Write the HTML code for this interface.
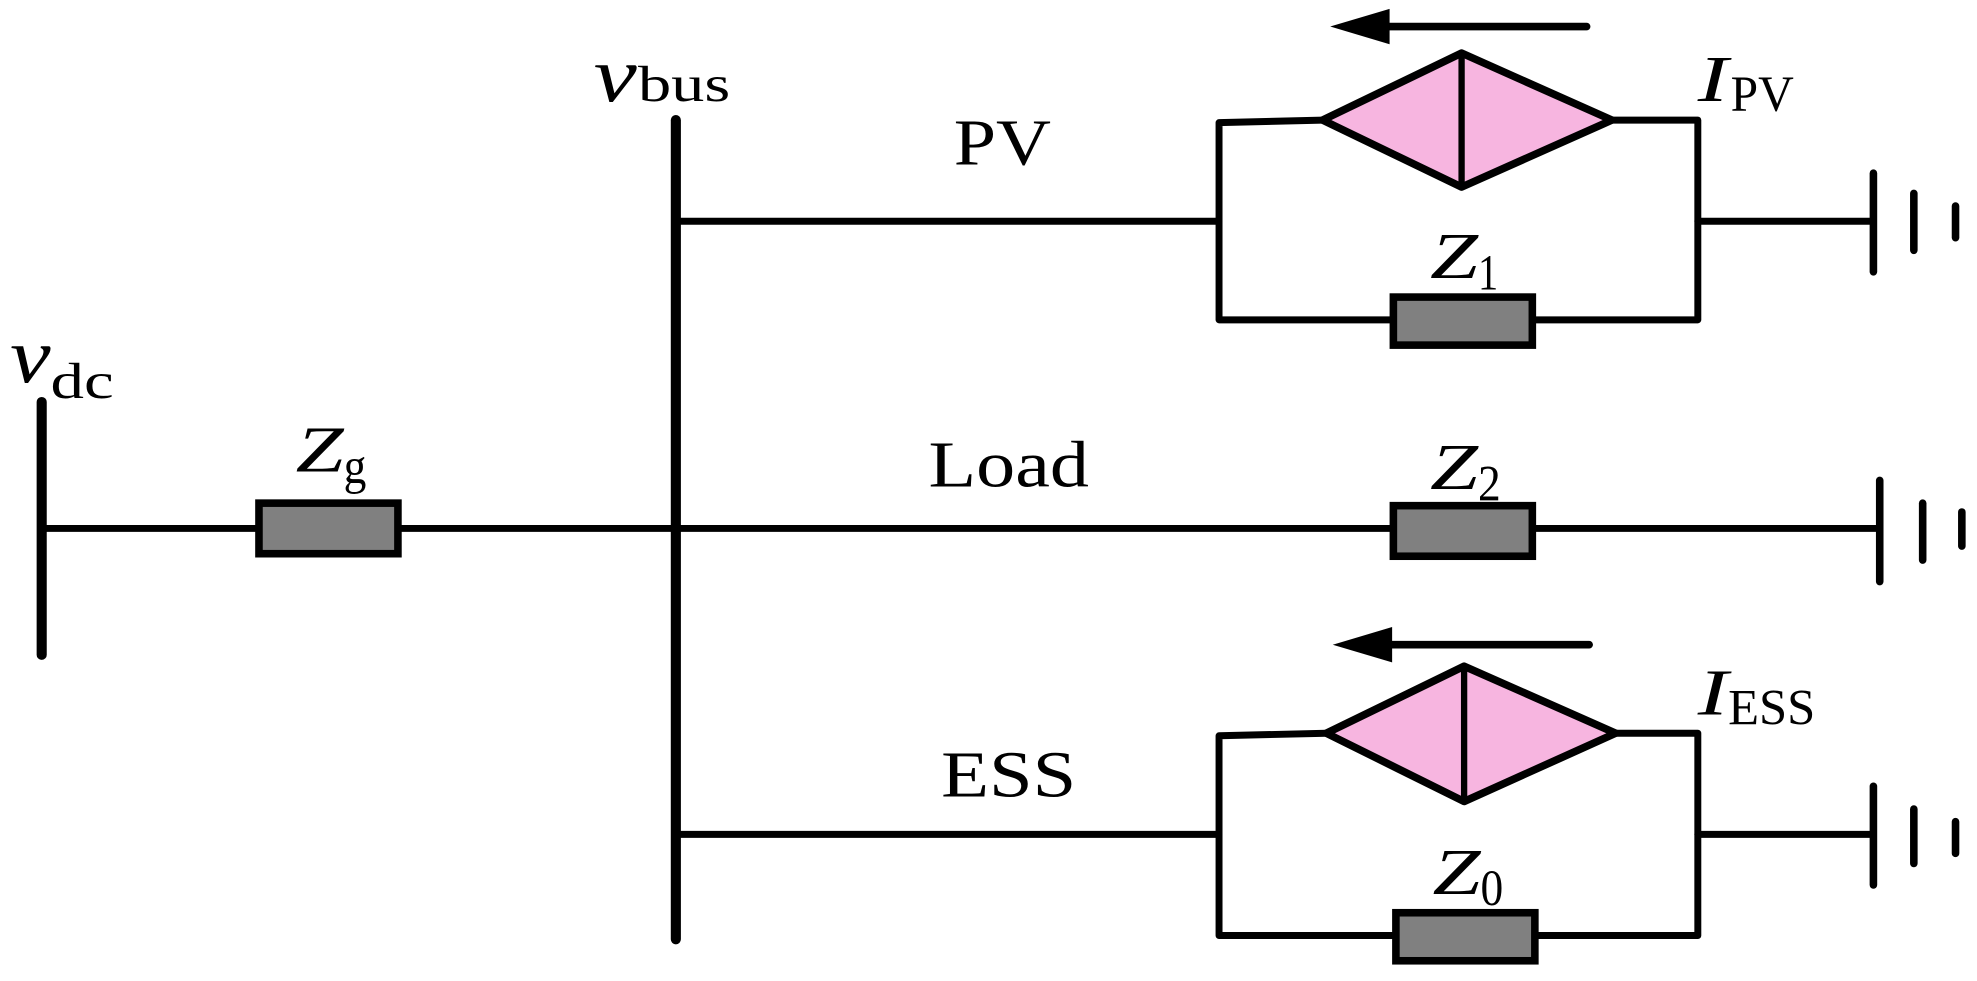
<!DOCTYPE html>
<html><head><meta charset="utf-8"><style>html,body{margin:0;padding:0;background:#fff;}svg{display:block}</style></head>
<body>
<svg width="1977" height="981" viewBox="0 0 1565 776" preserveAspectRatio="none" xmlns="http://www.w3.org/2000/svg">
<g stroke="#000" stroke-linecap="round" fill="none" stroke-linejoin="round">
<line x1="33" y1="318" x2="33" y2="518" stroke-width="8"/>
<line x1="33" y1="418" x2="535" y2="418" stroke-width="5.5"/>
<line x1="535" y1="95" x2="535" y2="743" stroke-width="8"/>
<line x1="535" y1="175" x2="965" y2="175" stroke-width="5.5"/>
<line x1="535" y1="418" x2="1488" y2="418" stroke-width="5.5"/>
<line x1="535" y1="660" x2="965" y2="660" stroke-width="5.5"/>
<polyline points="1047,95 965,97 965,253 1344,253 1344,95 1276,95" stroke-width="5.5"/>
<line x1="1344" y1="175" x2="1483" y2="175" stroke-width="5.5"/>
<polygon points="1047,95 1157,42 1276,95 1157,148" fill="#f7b5e0" stroke-width="6"/>
<line x1="1157" y1="42" x2="1157" y2="148" stroke-width="5"/>
<line x1="1483" y1="137" x2="1483" y2="215" stroke-width="6"/>
<line x1="1515" y1="153" x2="1515" y2="198" stroke-width="6"/>
<line x1="1548" y1="163" x2="1548" y2="188" stroke-width="6"/>
<line x1="1100" y1="21" x2="1256" y2="21" stroke-width="6"/>
<polygon points="1053,21 1100,7 1100,35" fill="#000" stroke="none"/>
<line x1="1488" y1="380" x2="1488" y2="460" stroke-width="6"/>
<line x1="1522" y1="398" x2="1522" y2="443" stroke-width="6"/>
<line x1="1553" y1="405" x2="1553" y2="432" stroke-width="6"/>
<polyline points="1050,580 965,582 965,740 1344,740 1344,580 1279,580" stroke-width="5.5"/>
<line x1="1344" y1="660" x2="1483" y2="660" stroke-width="5.5"/>
<polygon points="1050,580 1159,527 1279,580 1159,634" fill="#f7b5e0" stroke-width="6"/>
<line x1="1159" y1="527" x2="1159" y2="634" stroke-width="5"/>
<line x1="1483" y1="622" x2="1483" y2="700" stroke-width="6"/>
<line x1="1515" y1="640" x2="1515" y2="683" stroke-width="6"/>
<line x1="1548" y1="650" x2="1548" y2="675" stroke-width="6"/>
<line x1="1102" y1="510" x2="1258" y2="510" stroke-width="6"/>
<polygon points="1055,510 1102,496 1102,524" fill="#000" stroke="none"/>
</g>
<g fill="#808080" stroke="#000" stroke-width="6">
<rect x="205" y="398" width="110" height="40"/>
<rect x="1103" y="235" width="110" height="38"/>
<rect x="1103" y="400" width="110" height="40"/>
<rect x="1105" y="722" width="110" height="38"/>
</g>
<g font-family="Liberation Serif, serif" fill="#000" lengthAdjust="spacingAndGlyphs">
<text x="8" y="302" font-size="62" font-style="italic" textLength="32" lengthAdjust="spacingAndGlyphs">v</text>
<text x="40" y="315" font-size="40" textLength="50" lengthAdjust="spacingAndGlyphs">dc</text>
<text x="470" y="80" font-size="62" font-style="italic" textLength="34" lengthAdjust="spacingAndGlyphs">v</text>
<text x="505" y="80" font-size="40" textLength="73" lengthAdjust="spacingAndGlyphs">bus</text>
<text x="234" y="373" font-size="52" font-style="italic" textLength="38" lengthAdjust="spacingAndGlyphs">Z</text>
<text x="272" y="382" font-size="40" textLength="18" lengthAdjust="spacingAndGlyphs">g</text>
<text x="755" y="130" font-size="52" textLength="77" lengthAdjust="spacingAndGlyphs">PV</text>
<text x="735" y="385" font-size="52" textLength="127" lengthAdjust="spacingAndGlyphs">Load</text>
<text x="745" y="630" font-size="52" textLength="107" lengthAdjust="spacingAndGlyphs">ESS</text>
<text x="1132" y="220" font-size="52" font-style="italic" textLength="38" lengthAdjust="spacingAndGlyphs">Z</text>
<text x="1170" y="229" font-size="40" textLength="16" lengthAdjust="spacingAndGlyphs">1</text>
<text x="1132" y="387" font-size="52" font-style="italic" textLength="38" lengthAdjust="spacingAndGlyphs">Z</text>
<text x="1170" y="396" font-size="40" textLength="18" lengthAdjust="spacingAndGlyphs">2</text>
<text x="1134" y="707" font-size="52" font-style="italic" textLength="38" lengthAdjust="spacingAndGlyphs">Z</text>
<text x="1172" y="716" font-size="40" textLength="18" lengthAdjust="spacingAndGlyphs">0</text>
<text x="1344" y="80" font-size="52" font-style="italic" textLength="24" lengthAdjust="spacingAndGlyphs">I</text>
<text x="1370" y="88" font-size="40" textLength="50" lengthAdjust="spacingAndGlyphs">PV</text>
<text x="1344" y="565" font-size="52" font-style="italic" textLength="24" lengthAdjust="spacingAndGlyphs">I</text>
<text x="1368" y="573" font-size="40" textLength="69" lengthAdjust="spacingAndGlyphs">ESS</text>
</g>
</svg>
</body></html>
